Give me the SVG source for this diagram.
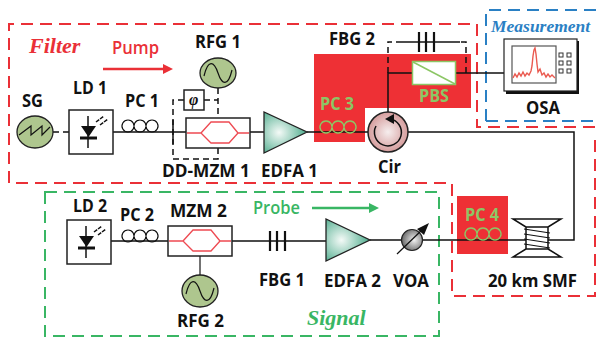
<svg xmlns="http://www.w3.org/2000/svg" xmlns:xlink="http://www.w3.org/1999/xlink" width="596" height="341" viewBox="0 0 596 341">
<style>
text{font-family:"Open Sans","Liberation Sans",sans-serif;font-weight:700;font-size:17.5px;fill:#111}
.it{font-family:"Liberation Serif",serif;font-style:italic;font-size:22px}
.ln{fill:none;stroke:#111;stroke-width:1.5}
.dl{fill:none;stroke:#111;stroke-width:1.5;stroke-dasharray:6 4}
.box{fill:#fff;stroke:#222;stroke-width:1.5}
.gen{fill:#aec68e;stroke:#222;stroke-width:1.3}
.hex{fill:none;stroke:#ee4a52;stroke-width:1.3}
.pc{fill:none;stroke:#111;stroke-width:1.2}
.pcg{fill:none;stroke:#8cc665;stroke-width:1.4}
.amp{fill:url(#ampg);stroke:#222;stroke-width:1.3}
.rd{fill:none;stroke:#ea3037;stroke-width:2;stroke-dasharray:12 7}
.bd{fill:none;stroke:#2a80c4;stroke-width:2;stroke-dasharray:12 7}
.gd{fill:none;stroke:#39b664;stroke-width:2;stroke-dasharray:12 7}
</style>
<defs>
<radialGradient id="ampg" cx="0.35" cy="0.5" r="0.7"><stop offset="0" stop-color="#f4faf7"/><stop offset="1" stop-color="#3fa583"/></radialGradient>
<radialGradient id="cirg"><stop offset="0" stop-color="#f6eeee"/><stop offset="1" stop-color="#d59c9c"/></radialGradient>
<radialGradient id="voag" cx="0.6" cy="0.5" r="0.6"><stop offset="0" stop-color="#f2f2f2"/><stop offset="1" stop-color="#666"/></radialGradient>
<g id="ld">
<rect class="box" x="0" y="0" width="44" height="44"/>
<path class="ln" d="M19 6V38"/>
<path d="M12 16H27L19.500 27Z" fill="#111"/>
<path d="M11 28H28" stroke="#111" stroke-width="3"/>
<path d="M27 12L35 6M31 15L39 9" stroke="#111" stroke-width="1.500" stroke-dasharray="4 1"/>
</g>
<g id="mz">
<rect class="box" x="0" y="0" width="64" height="30"/>
<path class="hex" d="M1 15H15L25 4H43L52 15H63M15 15L25 25H43L52 15"/>
</g>
<path id="coil" class="pc" d="M6 0a6 6 0 1 0 .01 0M18 0a6 6 0 1 0 .01 0M30 0a6 6 0 1 0 .01 0"/>
<path id="coilg" class="pcg" d="M6 0a6 6 0 1 0 .01 0M18 0a6 6 0 1 0 .01 0M30 0a6 6 0 1 0 .01 0"/>
<path id="bars" d="M0 -10V10M7 -10V10M15 -10V10" stroke="#111" stroke-width="2.200" fill="none"/>
<path id="sine" class="ln" d="M-14 3C-10 -14 -4 -12 0 0C4 12 10 14 14 -3" style="stroke-width:1.200"/>
</defs>

<g id="panels">
<rect x="314" y="54" width="157" height="54" fill="#ee3035"/>
<rect x="314" y="54" width="51" height="88" fill="#ee3035"/>
<rect x="457" y="196" width="51" height="58" fill="#ee3035"/>
<path id="filter-frame" class="rd" d="M470 24H9V183H452V296H595V133M595 127H477V24"/>
<path id="measurement-frame" class="bd" d="M486 121V10H596M486 121H596"/>
<path id="signal-frame" class="gd" d="M45 192H439V336H45Z"/>
</g>

<g id="connectors">
<path class="dl" d="M53 132H69"/>
<path class="ln" d="M113 132H186M250 132H264M307 132H368M408 132H574V240H370M168 241H111M232 241H326"/>
<path class="ln" d="M388 112V73H412M455 73H504"/>
<path class="dl" d="M388 73V42H392M466 73V42H460"/>
<path class="ln" d="M396 42H460"/>
<path class="dl" d="M218 88V118M204 100H218M184 100H173V159H218V147"/>
<path d="M200 256V276" stroke="#444" stroke-width="1.500"/>
<path class="ln" d="M173 120V144"/>
<path d="M103 69H164" stroke="#ea3037" stroke-width="2.500"/><path d="M163 64L173 69L163 74Z" fill="#ea3037"/>
<path d="M312 208H371" stroke="#39b664" stroke-width="2.500"/><path d="M369 203L379 208L369 213Z" fill="#39b664"/>
</g>

<g id="sg"><ellipse class="gen" cx="35" cy="132" rx="18" ry="16"/><path class="ln" d="M19 135L31 126V135L42 126V135L50 127" style="stroke-width:1.200"/><text x="22" y="107" textLength="21" lengthAdjust="spacingAndGlyphs">SG</text></g>
<g id="ld1"><use href="#ld" x="69" y="110"/><text x="73" y="94" textLength="34" lengthAdjust="spacingAndGlyphs">LD 1</text></g>
<g id="pc1"><use href="#coil" x="122" y="120"/><text x="125" y="107" textLength="34" lengthAdjust="spacingAndGlyphs">PC 1</text></g>
<g id="rfg1"><ellipse class="gen" cx="218" cy="73" rx="18" ry="15"/><use href="#sine" x="218" y="73"/><text x="195" y="48" textLength="46" lengthAdjust="spacingAndGlyphs">RFG 1</text></g>
<g id="phase"><rect class="box" x="184" y="90" width="20" height="20"/><text x="189" y="105" style="font-family:'Liberation Serif',serif;font-style:italic;font-size:16px">φ</text></g>
<g id="mzm1"><use href="#mz" x="186" y="118"/><text x="162" y="177" textLength="88" lengthAdjust="spacingAndGlyphs">DD-MZM 1</text></g>
<g id="edfa1"><path class="amp" d="M264 112V153L307 132Z"/><text x="261" y="177" textLength="57" lengthAdjust="spacingAndGlyphs">EDFA 1</text></g>
<g id="pc3"><use href="#coilg" x="320" y="121"/><text x="320" y="110" textLength="34" lengthAdjust="spacingAndGlyphs" style="fill:#8cc665">PC 3</text></g>
<g id="cir"><circle cx="388" cy="132" r="20" fill="url(#cirg)" stroke="#222" stroke-width="1.500"/><path class="ln" d="M390 119A13.500 13.500 0 1 1 376 126"/><path d="M385 119L394 114V124Z" fill="#111"/><text x="378" y="173" textLength="23" lengthAdjust="spacingAndGlyphs">Cir</text></g>
<g id="fbg2"><use href="#bars" x="419" y="42"/><text x="329" y="45" textLength="46" lengthAdjust="spacingAndGlyphs">FBG 2</text></g>
<g id="pbs"><rect x="412.500" y="61.500" width="43" height="23" fill="#fff" stroke="#8cc665" stroke-width="1.500"/><path d="M413 62L455 84" stroke="#8cc665" stroke-width="1.500"/><text x="419" y="102" textLength="30" lengthAdjust="spacingAndGlyphs" style="fill:#8cc665">PBS</text></g>
<g id="osa">
<rect x="506" y="41" width="73" height="53" fill="#111"/>
<rect x="504" y="39" width="73" height="52" fill="#fff" stroke="#222" stroke-width="1.200"/>
<rect x="512" y="46" width="44" height="37" fill="#fff" stroke="#555" stroke-width="1.200"/>
<path d="M513 78L515 74L517 77L519 73L521 76L523 72L525 76L527 73L529 75L531 71L532 66L533 56L534 50L535 48L536 54L537 64L538 72L540 69L542 75L544 73L546 77L548 74L550 77L552 75L555 78" fill="none" stroke="#ea5a50" stroke-width="1.400"/>
<g fill="none" stroke="#333" stroke-width="1"><rect x="559" y="53" width="4" height="4"/><rect x="567" y="53" width="4" height="4"/><rect x="559" y="61" width="4" height="4"/><rect x="567" y="61" width="4" height="4"/><rect x="559" y="69" width="4" height="4"/><rect x="567" y="69" width="4" height="4"/></g>
<text x="526" y="114" textLength="34" lengthAdjust="spacingAndGlyphs">OSA</text>
</g>
<g id="ld2"><use href="#ld" x="67" y="220"/><text x="73" y="212" textLength="34" lengthAdjust="spacingAndGlyphs">LD 2</text></g>
<g id="pc2"><use href="#coil" x="122" y="230"/><text x="120" y="221" textLength="34" lengthAdjust="spacingAndGlyphs">PC 2</text></g>
<g id="mzm2"><use href="#mz" x="168" y="226"/><text x="170" y="217" textLength="57" lengthAdjust="spacingAndGlyphs">MZM 2</text></g>
<g id="rfg2"><ellipse class="gen" cx="200" cy="291" rx="18" ry="16"/><use href="#sine" x="200" y="291"/><text x="177" y="327" textLength="47" lengthAdjust="spacingAndGlyphs">RFG 2</text></g>
<g id="fbg1"><use href="#bars" x="270" y="241"/><text x="259" y="286" textLength="46" lengthAdjust="spacingAndGlyphs">FBG 1</text></g>
<g id="edfa2"><path class="amp" d="M326 219V261L370 240Z"/><text x="324" y="287" textLength="57" lengthAdjust="spacingAndGlyphs">EDFA 2</text></g>
<g id="voa"><circle cx="412" cy="240" r="10.500" fill="url(#voag)" stroke="#222" stroke-width="1.200"/><path class="ln" d="M397 254L424 228" style="stroke-width:1.200"/><path d="M429 223L417 229L424 235Z" fill="#111"/><text x="393" y="287" textLength="36" lengthAdjust="spacingAndGlyphs">VOA</text></g>
<g id="pc4"><use href="#coilg" x="465" y="228"/><text x="465" y="221" textLength="34" lengthAdjust="spacingAndGlyphs" style="fill:#8cc665">PC 4</text></g>
<g id="smf">
<rect x="526" y="227" width="22" height="22" fill="#fff"/>
<path class="ln" d="M513 219H561L548 227V249L561 257H513L526 249V227ZM526 227H548M526 249H548"/>
<path class="ln" d="M524 229L550 233M524 234L550 238M524 239L550 243M524 244L550 248" style="stroke-width:1.200"/>
<text x="488" y="287" textLength="89" lengthAdjust="spacingAndGlyphs">20 km SMF</text>
</g>
<g id="labels">
<text class="it" x="29" y="53" style="fill:#ea3037">Filter</text>
<text x="112" y="54" textLength="47" lengthAdjust="spacingAndGlyphs" style="fill:#ea3037;font-weight:600">Pump</text>
<text class="it" x="491" y="32" style="fill:#2a80c4;font-size:17.500px">Measurement</text>
<text x="253" y="214" textLength="47" lengthAdjust="spacingAndGlyphs" style="fill:#39b664;font-weight:600">Probe</text>
<text class="it" x="307" y="325" style="fill:#39b664">Signal</text>
</g>
</svg>
